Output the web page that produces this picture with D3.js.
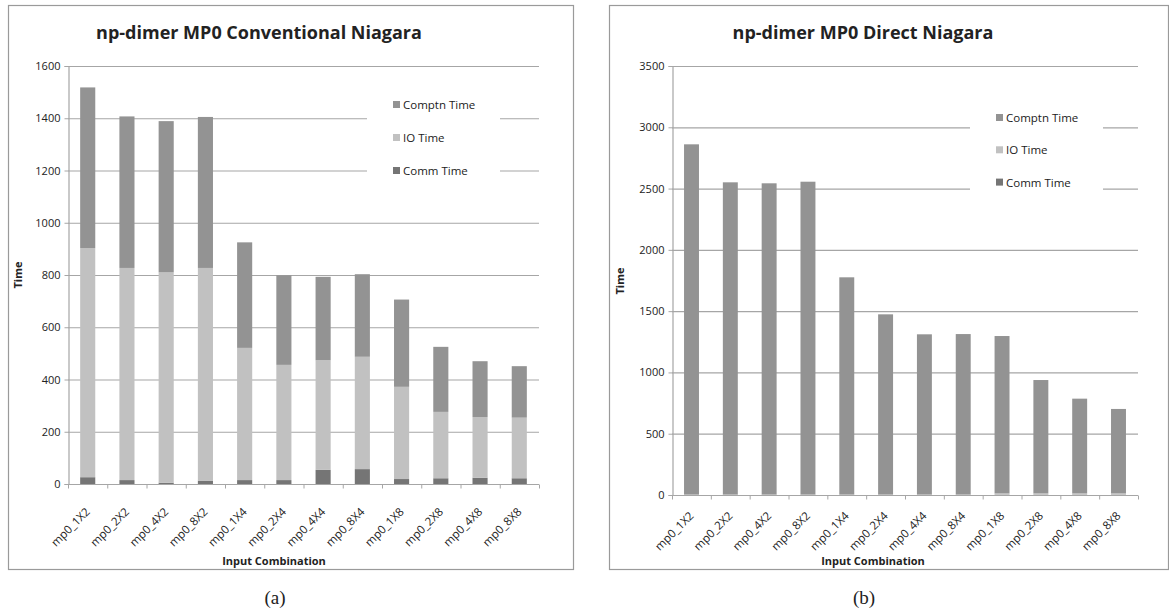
<!DOCTYPE html>
<html lang="en">
<head>
    <meta charset="UTF-8">
    <title>np-dimer MP0 Niagara</title>
    <script src="https://d3js.org/d3.v7.min.js"></script>
    <style>
        body { margin: 0; background: #fff; }
        svg text { font-family: "Open Sans", "Liberation Sans", sans-serif; fill: #222; }
        svg text.caption { font-family: "Liberation Serif", "DejaVu Serif", serif; }
    </style>
</head>
<body>
<div class="chartContainer"></div>
<script>
    // categories (x axis)
    const categories = ['mp0_1X2','mp0_2X2','mp0_4X2','mp0_8X2','mp0_1X4','mp0_2X4',
                        'mp0_4X4','mp0_8X4','mp0_1X8','mp0_2X8','mp0_4X8','mp0_8X8'];
    const seriesNames = ['Comm Time', 'IO Time', 'Comptn Time'];

    // (a) conventional
    const convComm   = [26, 15, 5, 13, 15, 15, 54, 57, 19, 22, 24, 22];
    const convIO     = [877, 812, 805, 814, 506, 441, 420, 430, 353, 254, 232, 232];
    const convComptn = [615, 580, 579, 578, 404, 343, 319, 316, 334, 249, 214, 197];
    const convTicks  = [0, 200, 400, 600, 800, 1000, 1200, 1400, 1600];

    // (b) direct
    const directComm   = [1, 1, 1, 1, 1, 1, 1, 1, 1, 1, 1, 1];
    const directIO     = [3, 3, 3, 3, 3, 3, 3, 3, 12, 12, 12, 12];
    const directComptn = [2857, 2547, 2539, 2552, 1772, 1470, 1307, 1309, 1284, 925, 773, 689];
    const directTicks  = [0, 500, 1000, 1500, 2000, 2500, 3000, 3500];

    const colors = {'Comptn Time': '#939393', 'IO Time': '#c1c1c1', 'Comm Time': '#757575'};
    const gridColor = '#a6a6a6';

    const svg = d3.select('.chartContainer').append('svg')
        .attr('width', 1169).attr('height', 615);

    function drawPanel(cfg) {
        const g = svg.append('g');

        // frame
        g.append('rect')
            .attr('x', cfg.frame[0] + 0.5).attr('y', cfg.frame[1] + 0.5)
            .attr('width', cfg.frame[2] - cfg.frame[0]).attr('height', cfg.frame[3] - cfg.frame[1])
            .attr('fill', 'none').attr('stroke', '#9a9a9a').attr('stroke-width', 1.2);

        const x = d3.scaleBand().domain(categories)
            .range([cfg.left, cfg.right]).paddingInner(0.615).paddingOuter(0.31);
        const xTick = d3.scaleBand().domain(categories).range([cfg.left, cfg.right]);
        const y = d3.scaleLinear().domain([0, cfg.ticks[cfg.ticks.length - 1]])
            .range([cfg.bottom, cfg.top]);

        // gridlines
        g.append('g').selectAll('line').data(cfg.ticks.slice(1)).enter().append('line')
            .attr('x1', cfg.left).attr('x2', cfg.right)
            .attr('y1', d => y(d) + 0.5).attr('y2', d => y(d) + 0.5)
            .attr('stroke', gridColor).attr('stroke-width', 1.2);

        // y axis
        const yAxis = g.append('g')
            .attr('transform', `translate(${cfg.left + 0.5},0)`)
            .call(d3.axisLeft(y).tickValues(cfg.ticks).tickFormat(d3.format('d'))
                .tickSize(4).tickPadding(4));
        yAxis.select('.domain').attr('stroke', gridColor).attr('stroke-width', 1.2);
        yAxis.selectAll('.tick line').attr('stroke', gridColor);
        yAxis.selectAll('text').style('font-size', '11px').style('fill', '#222');

        // stacked bars
        const rows = categories.map((c, i) => ({
            cat: c,
            'Comm Time': cfg.comm[i], 'IO Time': cfg.io[i], 'Comptn Time': cfg.comptn[i]
        }));
        const stacked = d3.stack().keys(seriesNames)(rows);
        g.append('g').selectAll('g').data(stacked).enter().append('g')
            .attr('fill', d => colors[d.key])
            .selectAll('rect').data(d => d).enter().append('rect')
            .attr('x', d => x(d.data.cat))
            .attr('width', x.bandwidth())
            .attr('y', d => y(d[1]))
            .attr('height', d => Math.max(0, y(d[0]) - y(d[1])));

        // x axis
        const xAxis = g.append('g')
            .attr('transform', `translate(0,${cfg.bottom + 0.5})`);
        xAxis.append('line').attr('x1', cfg.left).attr('x2', cfg.right)
            .attr('stroke', gridColor).attr('stroke-width', 1.2);
        const bounds = categories.map(c => xTick(c)).concat([cfg.right]);
        xAxis.selectAll('.xt').data(bounds).enter().append('line')
            .attr('x1', d => d + 0.5).attr('x2', d => d + 0.5)
            .attr('y1', 0).attr('y2', 4).attr('stroke', gridColor);
        xAxis.selectAll('text').data(categories).enter().append('text')
            .attr('transform', d => `translate(${x(d) + x.bandwidth() / 2 + 3},${cfg.labelDy}) rotate(-45)`)
            .attr('text-anchor', 'end')
            .style('font-size', '11.5px').style('fill', '#222')
            .text(d => d);

        // legend with white box over the gridlines
        const lg = g.append('g');
        lg.append('rect').attr('x', cfg.legend[0] - 26).attr('y', cfg.legend[1] - 17)
            .attr('width', 133).attr('height', 100).attr('fill', '#fff');
        const legendOrder = ['Comptn Time', 'IO Time', 'Comm Time'];
        legendOrder.forEach((name, i) => {
            const ly = cfg.legend[1] + i * cfg.legendStep;
            lg.append('rect').attr('x', cfg.legend[0]).attr('y', ly - 4)
                .attr('width', 7).attr('height', 7).attr('fill', colors[name]);
            lg.append('text').attr('x', cfg.legend[0] + 10).attr('y', ly + 4)
                .style('font-size', '11.5px').text(name);
        });

        // titles
        g.append('text').attr('x', cfg.titleX).attr('y', 39)
            .attr('text-anchor', 'middle')
            .style('font-size', '18px').style('font-weight', 'bold')
            .text(cfg.title);
        g.append('text').attr('x', cfg.xTitleX).attr('y', 565)
            .attr('text-anchor', 'middle')
            .style('font-size', '11px').style('font-weight', 'bold')
            .text('Input Combination');
        g.append('text')
            .attr('transform', `translate(${cfg.yTitle[0]},${cfg.yTitle[1]}) rotate(-90)`)
            .attr('text-anchor', 'middle')
            .style('font-size', '11px').style('font-weight', 'bold')
            .text('Time');
        g.append('text').attr('class', 'caption')
            .attr('x', cfg.captionX).attr('y', 604)
            .attr('text-anchor', 'middle')
            .style('font-size', '19px')
            .text(cfg.caption);
    }

    drawPanel({
        title: 'np-dimer MP0 Conventional Niagara', caption: '(a)',
        frame: [8, 5, 573, 569],
        left: 68, right: 539, top: 66, bottom: 484,
        ticks: convTicks, comm: convComm, io: convIO, comptn: convComptn,
        legend: [393, 105], legendStep: 33,
        titleX: 259, xTitleX: 274, captionX: 275, yTitle: [22, 275], labelDy: 28
    });

    drawPanel({
        title: 'np-dimer MP0 Direct Niagara', caption: '(b)',
        frame: [609, 5, 1168, 569],
        left: 672, right: 1138, top: 66, bottom: 495,
        ticks: directTicks, comm: directComm, io: directIO, comptn: directComptn,
        legend: [996, 118], legendStep: 32.3,
        titleX: 863, xTitleX: 873, captionX: 864, yTitle: [624, 281], labelDy: 21
    });
</script>
</body>
</html>
